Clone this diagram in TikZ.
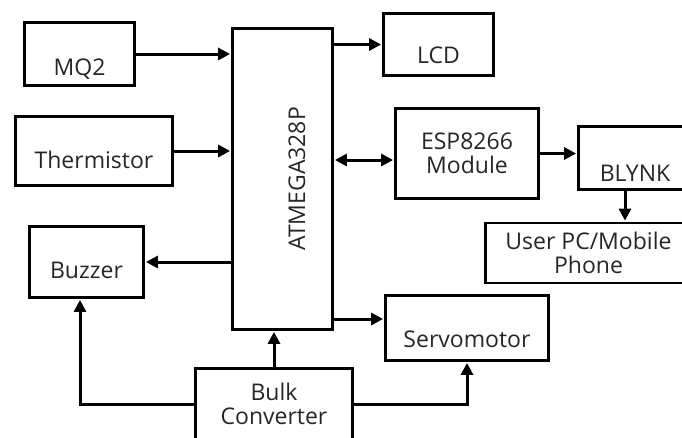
\documentclass[tikz,border=0pt]{standalone}
\usepackage{fontspec}
\setmainfont{Open Sans}
\usetikzlibrary{arrows.meta,positioning}

\begin{document}
\begin{tikzpicture}[x=1pt, y=-1pt,
    blk/.style={draw, line width=2.8pt, align=center, text=black!85, font=\fontsize{23}{24}\selectfont, inner sep=2pt},
    low/.style={text height=#1, text depth=0pt},
    arr/.style={-{Triangle[length=12pt, width=12pt]}, line width=3pt, shorten >=1pt},
    darr/.style={{Triangle[length=12pt, width=12pt]}-{Triangle[length=12pt, width=12pt]}, line width=3pt, shorten >=1pt, shorten <=1pt}
]
\path[use as bounding box, clip] (0,0) rectangle (682,437);

\node[blk, low=42pt, minimum width=110pt, minimum height=63pt] (MQ) at (79.5,54) {MQ2};
\node[blk, low=34pt, minimum width=157pt, minimum height=69pt] (TH) at (94,151) {Thermistor};
\node[blk, minimum width=100pt, minimum height=301pt] (MCU) at (282.5,179) {\hspace*{29pt}\rotatebox{90}{ATMEGA328P}};
\node[blk, low=38pt, minimum width=110pt, minimum height=62pt] (LCD) at (438.5,44.5) {LCD};
\node[blk, minimum width=143pt, minimum height=90pt] (ESP) at (467,153.5) {ESP8266\\Module};
\node[blk, low=46pt, minimum width=113pt, minimum height=63pt] (BLY) at (635,158) {BLYNK};
\node[blk, minimum width=206pt, minimum height=60pt] (USR) at (588.5,253) {User PC/Mobile\\Phone};
\node[blk, low=32pt, minimum width=114pt, minimum height=71pt] (BUZ) at (86.5,262) {Buzzer};
\node[blk, low=38pt, minimum width=163pt, minimum height=65pt] (SRV) at (467,328) {Servomotor};
\node[blk, minimum width=157pt, minimum height=71pt] (BLK) at (274,404) {Bulk\\Converter};

\coordinate (esp in) at ([yshift=-6.5pt]ESP.west);
\coordinate (bly out) at ([xshift=-10pt]BLY.south);
\coordinate (srv in) at ([yshift=9pt]SRV.west);
\coordinate (buz in) at ([xshift=-6.5pt]BUZ.south);

\draw[arr] (MQ.east) -- (MQ.east -| MCU.west);
\draw[arr] (TH.east) -- (TH.east -| MCU.west);
\draw[arr] (LCD.west -| MCU.east) -- (LCD.west);
\draw[darr] (esp in -| MCU.east) -- (esp in);
\draw[arr] (ESP.east) -- (ESP.east -| BLY.west);
\draw[arr] (bly out) -- (bly out |- USR.north);
\draw[arr] (BUZ.east -| MCU.west) -- (BUZ.east);
\draw[arr] (srv in -| MCU.east) -- (srv in);
\draw[arr] (BLK.north) -- (BLK.north |- MCU.south);
\draw[arr] (BLK.west) -| (buz in);
\draw[arr] (BLK.east) -| (SRV.south);
\end{tikzpicture}
\end{document}
